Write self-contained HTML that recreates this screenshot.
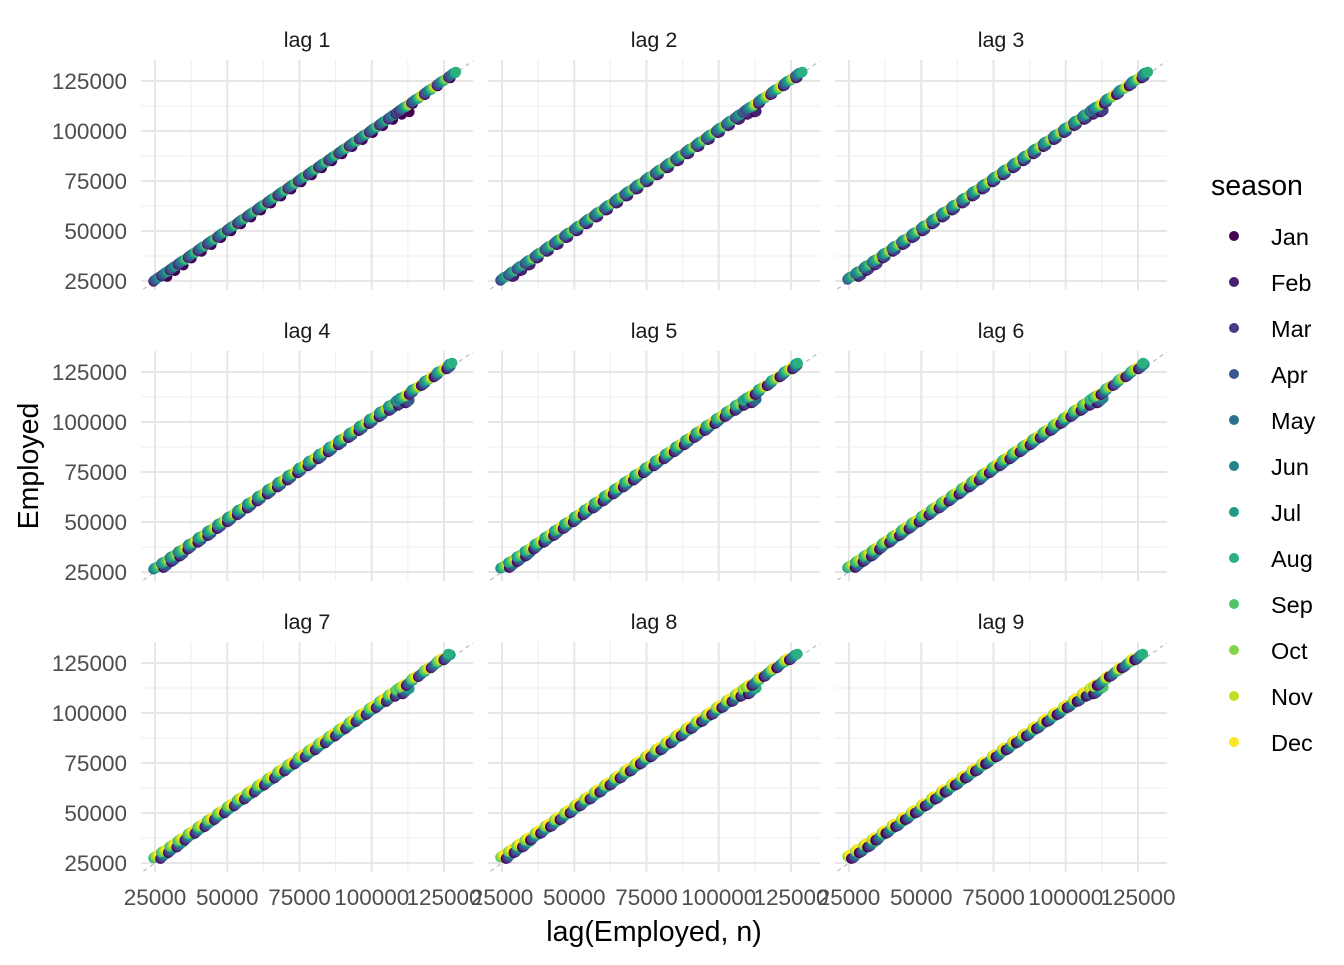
<!DOCTYPE html>
<html><head><meta charset="utf-8"><style>
body{margin:0;background:#fff;font-family:"Liberation Sans",Arial,sans-serif}
svg text{font-family:"Liberation Sans",Arial,sans-serif}
</style></head><body>
<svg id="c" width="1344" height="960" viewBox="0 0 1344 960"></svg>
<script>
const annualLevel=[26800,29500,32400,35200,38700,42100,45400,48900,52300,55800,59200,62700,66200,69700,73200,76800,80300,83800,87300,90800,94400,97900,101400,104900,108000,110600,111800,116000,120400,124800,128800];
const seasonalOffset=[-2300,-2000,-1500,-1000,-400,100,300,700,1100,1500,1900,2400];
const monthNames=["Jan","Feb","Mar","Apr","May","Jun","Jul","Aug","Sep","Oct","Nov","Dec"];
const monthColors=["#440154","#482173","#433E85","#38598C","#2D708E","#25858E","#1E9B8A","#2BB07F","#51C56A","#85D54A","#C2DF23","#FDE725"];
const lags=[1,2,3,4,5,6,7,8,9];
const tickValues=[25000,50000,75000,100000,125000];
const minorValues=[37500,62500,87500,112500];

const NS="http://www.w3.org/2000/svg";
const svg=document.getElementById('c');
function mk(t,a,p){const e=document.createElementNS(NS,t);for(const k in a)e.setAttribute(k,a[k]);(p||svg).appendChild(e);return e;}

const series=[],months=[];
for(let y=0;y<annualLevel.length;y++)for(let m=0;m<12;m++){series.push(annualLevel[y]+seasonalOffset[m]);months.push(m);}
series.splice(series.length-4);months.splice(months.length-4);

const colX=[141,488,835],rowY=[60,351,642],PW=332,PH=230;
function sx(c,v){return colX[c]+14+(v-25000)*72.25/25000;}
function sy(r,v){return rowY[r]+221-(v-25000)*50/25000;}

lags.forEach((lag,i)=>{
  const c=i%3,r=Math.floor(i/3);
  const g=mk('g',{});
  
  
  minorValues.forEach(v=>{
    mk('line',{x1:sx(c,v),x2:sx(c,v),y1:rowY[r],y2:rowY[r]+PH,stroke:'#f0f0f0','stroke-width':1.2},g);
    mk('line',{x1:colX[c],x2:colX[c]+PW,y1:sy(r,v),y2:sy(r,v),stroke:'#f0f0f0','stroke-width':1.2},g);
  });
  tickValues.forEach(v=>{
    mk('line',{x1:sx(c,v),x2:sx(c,v),y1:rowY[r],y2:rowY[r]+PH,stroke:'#e6e6e6','stroke-width':2},g);
    mk('line',{x1:colX[c],x2:colX[c]+PW,y1:sy(r,v),y2:sy(r,v),stroke:'#e6e6e6','stroke-width':2},g);
  });
  const d=mk('line',{x1:sx(c,21000),y1:sy(r,21000),x2:sx(c,135000),y2:sy(r,135000),stroke:'#bbb','stroke-width':1.2,'stroke-dasharray':'4,4'},g);
  
  
  for(let k=lag;k<series.length;k++){
    const p=mk('circle',{cx:sx(c,series[k-lag]),cy:sy(r,series[k]),r:5.3,fill:monthColors[months[k]]},g);
    
    
  }
  const st=mk('text',{x:colX[c]+PW/2,y:rowY[r]-13,'text-anchor':'middle','font-size':'21.5',fill:'#1a1a1a'},g);
  st.textContent='lag '+lag;
  
  
  if(c===0){tickValues.forEach(v=>{
    const t=mk('text',{x:127,y:sy(r,v)+8,'text-anchor':'end','font-size':'22.5',fill:'#4d4d4d'});
    t.textContent=v;
    
    
  });}
  if(r===2){tickValues.forEach(v=>{
    const t=mk('text',{x:sx(c,v),y:905,'text-anchor':'middle','font-size':'22.5',fill:'#4d4d4d'});
    t.textContent=v;
    
    
  });}
});
const xt=mk('text',{x:654,y:941,'text-anchor':'middle','font-size':'28.5',fill:'#000'});
xt.textContent='lag(Employed, n)';


const yt=mk('text',{x:0,y:0,'text-anchor':'middle','font-size':'28.5',fill:'#000',transform:'translate(38,466) rotate(-90)'});
yt.textContent='Employed';


const lt=mk('text',{x:1211,y:195,'font-size':'28.5',fill:'#000'});
lt.textContent='season';


monthNames.forEach((n,i)=>{
  const g=mk('g',{});
  
  
  mk('circle',{cx:1234,cy:236+i*46,r:5,fill:monthColors[i]},g);
  const t=mk('text',{x:1271,y:245+i*46,'font-size':'23.5',fill:'#000'},g);
  t.textContent=n;
});
</script>
</body></html>
